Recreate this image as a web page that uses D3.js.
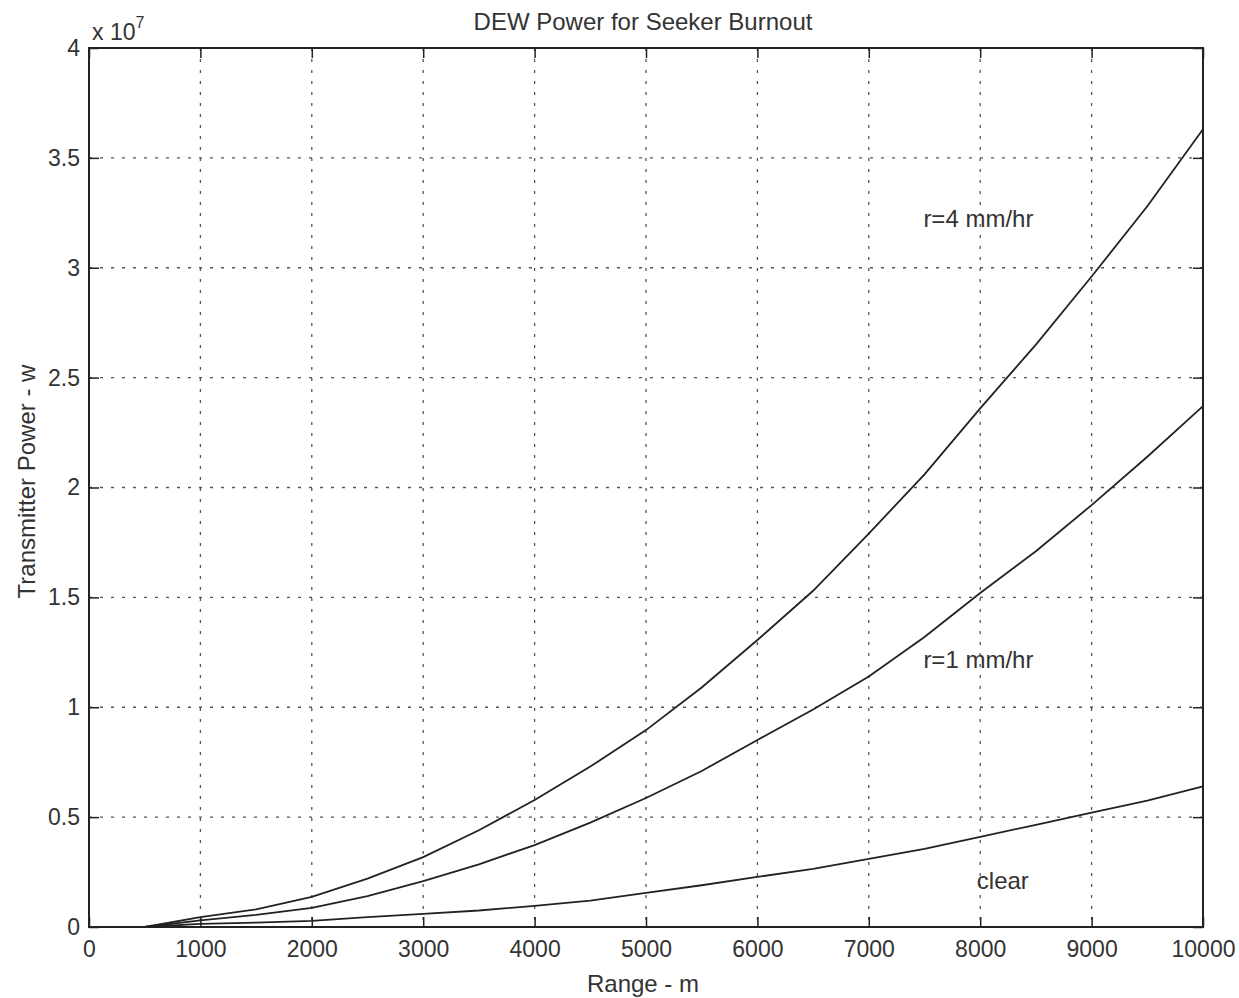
<!DOCTYPE html>
<html>
<head>
<meta charset="utf-8">
<script src="https://cdn.jsdelivr.net/npm/d3@7"></script>
<style>
  body { margin: 0; background: #fff; }
  text { font-family: "Liberation Sans", Arial, sans-serif; fill: #333; }
</style>
</head>
<body>
<div id="chart"></div>
<script>
// range in metres
const range = [500, 1000, 1500, 2000, 2500, 3000, 3500, 4000, 4500, 5000,
               5500, 6000, 6500, 7000, 7500, 8000, 8500, 9000, 9500, 10000];
// transmitter power, in units of 1e7 W
const rain4 = [0, 0.045, 0.08, 0.137, 0.22, 0.318, 0.44, 0.578, 0.73, 0.896,
               1.09, 1.306, 1.53, 1.79, 2.06, 2.36, 2.65, 2.96, 3.28, 3.63];
const rain1 = [0, 0.03, 0.055, 0.087, 0.14, 0.209, 0.285, 0.373, 0.475, 0.587,
               0.71, 0.851, 0.99, 1.14, 1.32, 1.52, 1.71, 1.92, 2.14, 2.37];
const clear = [0, 0.014, 0.02, 0.028, 0.045, 0.06, 0.075, 0.096, 0.12, 0.155,
               0.19, 0.228, 0.265, 0.31, 0.355, 0.41, 0.465, 0.52, 0.575, 0.64];
const xTicks = [0, 1000, 2000, 3000, 4000, 5000, 6000, 7000, 8000, 9000, 10000];
const yTicks = [0, 0.5, 1, 1.5, 2, 2.5, 3, 3.5, 4];

const series = [
  { name: "r=4 mm/hr", values: rain4, lx: 7490, ly: 3.185 },
  { name: "r=1 mm/hr", values: rain1, lx: 7490, ly: 1.179 },
  { name: "clear", values: clear, lx: 7970, ly: 0.173 }
];

const W = 1239, H = 998;
const margin = { top: 48, right: 36, bottom: 71, left: 89 },
    width = W - margin.left - margin.right,
    height = H - margin.top - margin.bottom;

const svg = d3.select("#chart")
  .append("svg")
  .attr("width", W)
  .attr("height", H);

const g = svg.append("g")
  .attr("transform", "translate(" + margin.left + "," + margin.top + ")");

const x = d3.scaleLinear().domain([0, 10000]).range([0, width]);
const y = d3.scaleLinear().domain([0, 4]).range([height, 0]);

// grid
g.append("g").selectAll("line")
  .data(xTicks.slice(1, -1))
  .enter().append("line")
  .attr("x1", d => x(d)).attr("x2", d => x(d))
  .attr("y1", 0).attr("y2", height)
  .attr("stroke", "#555").attr("stroke-width", 1.3)
  .attr("stroke-dasharray", "3,8");
g.append("g").selectAll("line")
  .data(yTicks.slice(1, -1))
  .enter().append("line")
  .attr("y1", d => y(d)).attr("y2", d => y(d))
  .attr("x1", 0).attr("x2", width)
  .attr("stroke", "#555").attr("stroke-width", 1.3)
  .attr("stroke-dasharray", "3,8");

// axes with inward ticks
const tickLen = 10;
const fmt = d => String(d);
g.append("g").attr("class", "x-axis")
  .attr("transform", "translate(0," + height + ")")
  .call(d3.axisBottom(x).tickValues(xTicks).tickFormat(fmt)
    .tickSizeInner(-tickLen).tickSizeOuter(0).tickPadding(tickLen + 4));
g.append("g")
  .call(d3.axisTop(x).tickValues(xTicks).tickSizeInner(-tickLen).tickSizeOuter(0).tickFormat(""));
g.append("g").attr("class", "y-axis")
  .call(d3.axisLeft(y).tickValues(yTicks).tickFormat(fmt)
    .tickSizeInner(-tickLen).tickSizeOuter(0).tickPadding(9));
g.append("g")
  .attr("transform", "translate(" + width + ",0)")
  .call(d3.axisRight(y).tickValues(yTicks).tickSizeInner(-tickLen).tickSizeOuter(0).tickFormat(""));

g.selectAll(".domain").remove();
g.selectAll(".tick line").attr("stroke", "#222").attr("stroke-width", 1.5);
g.selectAll(".tick text").attr("font-size", 23).attr("fill", "#333")
  .attr("font-family", "Liberation Sans, Arial, sans-serif");

g.append("rect")
  .attr("width", width).attr("height", height)
  .attr("fill", "none").attr("stroke", "#222").attr("stroke-width", 2);

// curves
const line = d3.line()
  .x((d, i) => x(range[i]))
  .y(d => y(d));

g.selectAll(".curve")
  .data(series)
  .enter().append("path")
  .attr("class", "curve")
  .attr("d", d => line(d.values))
  .attr("fill", "none")
  .attr("stroke", "#222")
  .attr("stroke-width", 1.8);

g.selectAll(".lbl")
  .data(series)
  .enter().append("text")
  .attr("class", "lbl")
  .attr("x", d => x(d.lx))
  .attr("y", d => y(d.ly))
  .attr("font-size", 24)
  .text(d => d.name);

// titles
svg.append("text")
  .attr("x", margin.left + width / 2 - 3).attr("y", 30)
  .attr("text-anchor", "middle").attr("font-size", 24)
  .text("DEW Power for Seeker Burnout");

svg.append("text")
  .attr("x", margin.left + width / 2 - 3).attr("y", 992)
  .attr("text-anchor", "middle").attr("font-size", 24)
  .text("Range - m");

svg.append("text")
  .attr("transform", "translate(35," + (margin.top + height / 2 - 6) + ") rotate(-90)")
  .attr("text-anchor", "middle").attr("font-size", 24)
  .text("Transmitter Power - w");

const mult = svg.append("text")
  .attr("x", 92).attr("y", 40).attr("font-size", 23);
mult.append("tspan").text("x 10");
mult.append("tspan").attr("dy", -12).attr("font-size", 16).text("7");
</script>
</body>
</html>
